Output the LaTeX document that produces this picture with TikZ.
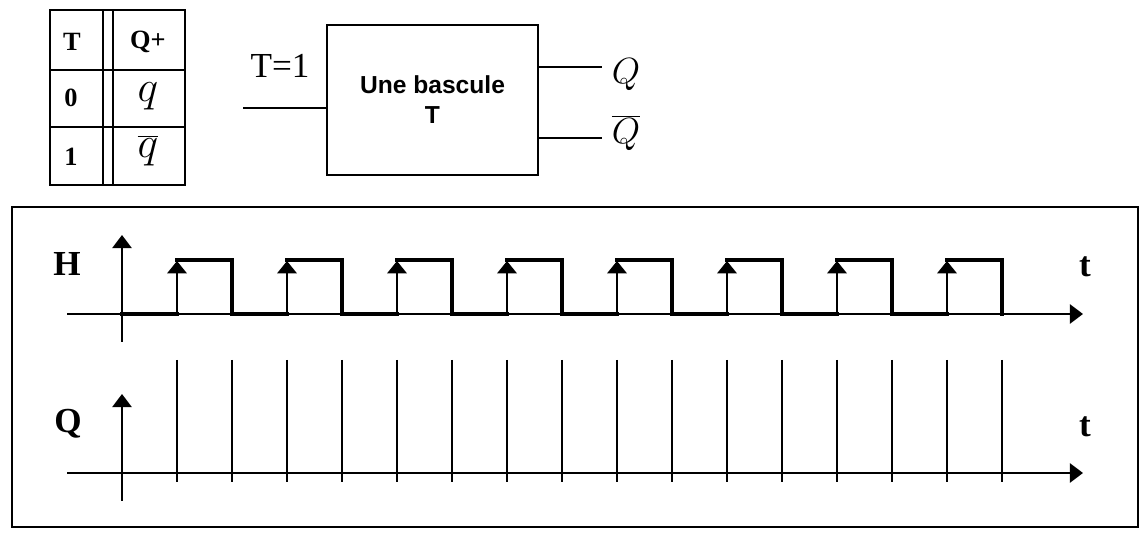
\documentclass[tikz,border=0pt]{standalone}
\usepackage{fontspec}
\setmainfont{Liberation Serif}
\newfontfamily\arialfont{Liberation Sans}
\usetikzlibrary{arrows.meta, positioning, calc}
\tikzset{
  axis/.style   = {line width=1.2pt, -{Triangle[width=11pt,length=7.5pt]}},
  sig/.style    = {line width=2.8pt, line cap=rect},
  rise/.style   = {line width=1.2pt, -{Triangle[width=11pt,length=7pt]}},
  tick/.style   = {line width=0.9pt},
  grid/.style   = {line width=1.1pt},
  lbl/.style    = {font=\fontsize{20}{24}\selectfont\bfseries},
  cell/.style   = {font=\fontsize{15}{18}\selectfont\bfseries},
  mth/.style    = {font=\fontsize{20}{24}\selectfont},
  block/.style  = {draw, line width=1.1pt, minimum width=42.2mm, minimum height=30mm,
                   align=center, font=\arialfont\bfseries\fontsize{14}{16}\selectfont},
}

\begin{document}
\begin{tikzpicture}[x=0.2mm, y=-0.2mm]
  \useasboundingbox (0,0) rectangle (1144,544);
  % truth table
  \draw[grid] (50,10) rectangle (185,185);
  \draw[grid] (103,10) -- (103,185) (113,10) -- (113,185);
  \draw[grid] (50,70) -- (185,70) (50,127) -- (185,127);
  \node[cell] (hT) at (72,42) {T};
  \node[cell] (hQ) at (148,42) {Q+};
  \node[cell] (r0) at (71,98) {0};
  \node[cell] (r1) at (71,157) {1};
  \node[mth, font=\fontsize{25}{28}\selectfont] (q0) at (148,96) {$q$};
  \node[mth, font=\fontsize{25}{28}\selectfont] (q1) at (148,151) {$\overline{q}$};

  % flip-flop block
  \node[block] (tff) at (432.5,100) {Une bascule\\[1pt]T};
  \coordinate (in) at (243,108);
  \coordinate (qo) at (602,67);
  \coordinate (qbo) at (602,138);
  \draw[grid] (in) -- (in -| tff.west);
  \draw[grid] (qo -| tff.east) -- (qo);
  \draw[grid] (qbo -| tff.east) -- (qbo);
  \node[mth] (tin) at (280,66) {T=1};
  \node[mth] (qlab) at (626,75) {$Q$};
  \node[mth] (qblab) at (626,133) {$\overline{Q}$};

  % chronogram frame
  \draw[line width=1.6pt] (12,207) rectangle (1138,527);

  % H axes
  \draw[axis] (67,314) -- (1083,314);
  \draw[axis] (122,342) -- (122,235);
  \node[lbl] (H) at (67,264) {H};
  \node[lbl] (tH) at (1085,267) {t};
  \foreach \k in {0,...,7} {
    \pgfmathsetmacro{\r}{177+110*\k}
    \draw[sig] (\r-55,314) -- (\r,314);
    \draw[sig] (\r,260) -- ++(55,0) -- ++(0,54);
    \draw[rise] (\r,314) -- (\r,261);
  }

  % Q axes
  \draw[axis] (67,473) -- (1083,473);
  \draw[axis] (122,501) -- (122,394);
  \node[lbl] (Q) at (68,424) {Q};
  \node[lbl] (tQ) at (1085,427) {t};
  \foreach \k in {0,...,15} {
    \draw[tick] (177+55*\k,360) -- (177+55*\k,482);
  }
\end{tikzpicture}
\end{document}
